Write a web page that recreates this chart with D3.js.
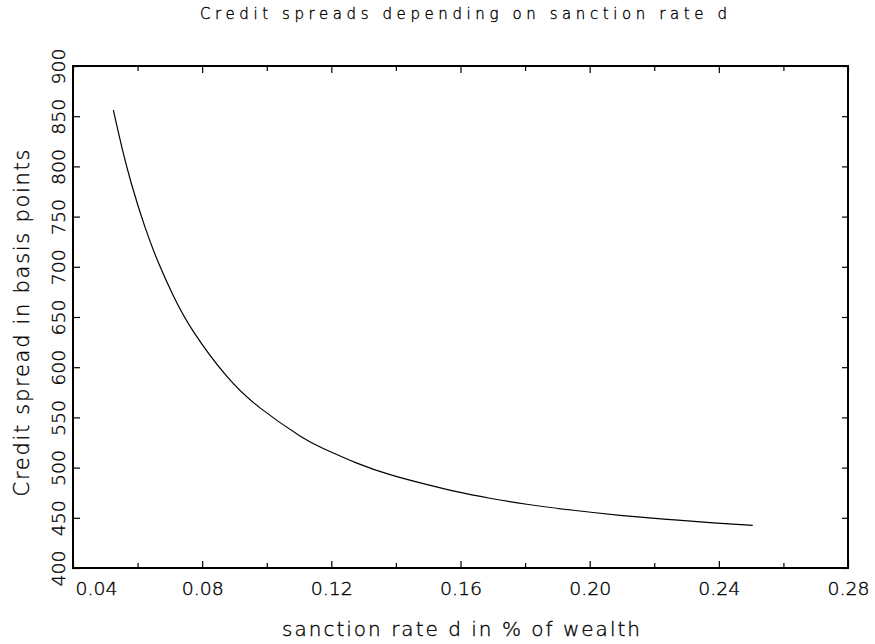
<!DOCTYPE html>
<html>
<head>
<meta charset="utf-8">
<script src="https://cdn.jsdelivr.net/npm/d3@7"></script>
<style>
  html, body { margin: 0; padding: 0; background: #fff; }
  svg { display: block; }
  text { font-family: "DejaVu Sans", sans-serif; font-weight: 200; fill: #000; stroke: #000; stroke-width: 0.35px; }
</style>
</head>
<body>
<svg id="chart" width="875" height="644"></svg>
<script>
// Sanction rate d and the resulting credit spread (basis points)
const sanctionRate = [0.0525, 0.0551, 0.0582, 0.0623, 0.0664, 0.0711, 0.0773, 0.0876, 0.0979, 0.1103, 0.1175,
                      0.1279, 0.1382, 0.1485, 0.1588, 0.1691, 0.1805, 0.1949, 0.2094, 0.2239, 0.2383, 0.2505];
const creditSpread = [856, 819.5, 781.5, 739.5, 704.5, 671, 635.5, 591, 559.5, 531.5, 519,
                      504.5, 493, 484, 476, 469.5, 463.5, 457.5, 452.5, 448.5, 445, 442.5];

const xMajorTicks = [0.04, 0.08, 0.12, 0.16, 0.20, 0.24, 0.28];
const xTickLabels = ["0.04", "0.08", "0.12", "0.16", "0.20", "0.24", "0.28"];
const xMinorTicks = [0.06, 0.10, 0.14, 0.18, 0.22, 0.26];
const yTicks = [400, 450, 500, 550, 600, 650, 700, 750, 800, 850, 900];
const yTickLabels = ["400", "450", "500", "550", "600", "650", "700", "750", "800", "850", "900"];

const chartTitle = "Credit spreads depending on sanction rate d";
const xAxisTitle = "sanction rate d in % of wealth";
const yAxisTitle = "Credit spread in basis points";

const svg = d3.select("#chart");
const box = { left: 73, right: 848, top: 66, bottom: 568 };

const x = d3.scaleLinear().domain([0.04, 0.28]).range([box.left, box.right]);
const y = d3.scaleLinear().domain([400, 900]).range([box.bottom, box.top]);

// Inward-pointing tick marks on all four sides
function ticks(axisFn, scale, values, size, transform) {
  const g = svg.append("g")
    .attr("transform", transform)
    .call(axisFn(scale).tickValues(values).tickSize(size).tickFormat(""));
  g.select(".domain").remove();
  g.selectAll(".tick line").attr("stroke", "#000").attr("stroke-width", 1.2);
  g.selectAll(".tick text").remove();
  return g;
}
ticks(d3.axisBottom, x, xMajorTicks, -7, `translate(0,${box.bottom})`);
ticks(d3.axisBottom, x, xMinorTicks, -5, `translate(0,${box.bottom})`);
ticks(d3.axisTop, x, xMajorTicks, -7, `translate(0,${box.top})`);
ticks(d3.axisTop, x, xMinorTicks, -5, `translate(0,${box.top})`);
ticks(d3.axisLeft, y, yTicks, -7, `translate(${box.left},0)`);
ticks(d3.axisRight, y, yTicks, -6, `translate(${box.right},0)`);

// X tick labels
const xLab = svg.append("g")
  .attr("transform", `translate(0,${box.bottom})`)
  .call(d3.axisBottom(x).tickValues(xMajorTicks).tickSize(0)
        .tickFormat((d, i) => xTickLabels[i]));
xLab.select(".domain").remove();
xLab.selectAll(".tick text")
  .attr("y", 27).attr("dy", 0)
  .attr("font-size", 17)
  .attr("font-family", null)
  .attr("textLength", 42).attr("lengthAdjust", "spacingAndGlyphs")
  .each(function (d, i) {
    if (i === 0) d3.select(this).attr("text-anchor", "start").attr("x", 2);
  });

// Y tick labels, rotated
const yLab = svg.append("g")
  .attr("transform", `translate(${box.left},0)`)
  .call(d3.axisLeft(y).tickValues(yTicks).tickSize(0)
        .tickFormat((d, i) => yTickLabels[i]));
yLab.select(".domain").remove();
yLab.selectAll(".tick text")
  .attr("x", 0).attr("y", 0).attr("dy", 0)
  .attr("text-anchor", "middle")
  .attr("transform", "translate(-8,0) rotate(-90)")
  .attr("font-size", 17)
  .attr("font-family", null)
  .attr("textLength", 36).attr("lengthAdjust", "spacingAndGlyphs");

// Curve
const line = d3.line()
  .x((d, i) => x(sanctionRate[i]))
  .y(d => y(d))
  .curve(d3.curveNatural);
svg.append("path")
  .attr("d", line(creditSpread))
  .attr("fill", "none")
  .attr("stroke", "#000")
  .attr("stroke-width", 1.2);

// Plot frame
svg.append("rect")
  .attr("x", box.left).attr("y", box.top)
  .attr("width", box.right - box.left).attr("height", box.bottom - box.top)
  .attr("fill", "none").attr("stroke", "#000").attr("stroke-width", 2);

// Titles
svg.append("text")
  .attr("x", 463.5).attr("y", 19)
  .attr("text-anchor", "middle").attr("font-size", 15)
  .attr("textLength", 527).attr("lengthAdjust", "spacing")
  .text(chartTitle);

svg.append("text")
  .attr("x", 461).attr("y", 635.7)
  .attr("text-anchor", "middle").attr("font-size", 20)
  .attr("textLength", 358).attr("lengthAdjust", "spacing")
  .text(xAxisTitle);

svg.append("text")
  .attr("transform", "translate(29,323) rotate(-90)")
  .attr("text-anchor", "middle").attr("font-size", 21)
  .attr("textLength", 347).attr("lengthAdjust", "spacing")
  .text(yAxisTitle);
</script>
</body>
</html>
